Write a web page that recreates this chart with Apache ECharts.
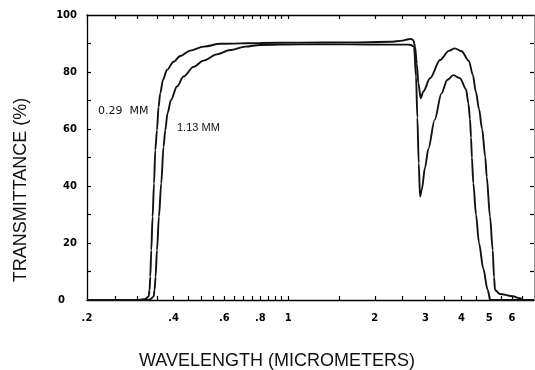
<!DOCTYPE html>
<html><head><meta charset="utf-8">
<script src="https://cdn.jsdelivr.net/npm/echarts@6/dist/echarts.min.js"></script>
<style>html,body{margin:0;padding:0;background:#fff}#c{width:535px;height:370px}</style>
</head><body><div id="c"></div>
<script>
// ---- data ----
const wl029 = [0.2, 0.30, 0.3187, 0.3273, 0.3300, 0.3318, 0.3345, 0.3380, 0.3419, 0.3454, 0.3501, 0.3546, 0.3594, 0.3672, 0.3791, 0.3997, 0.4217, 0.4567, 0.5079, 0.5806, 0.80, 1.1, 1.64, 2.26, 2.50, 2.62, 2.68, 2.724, 2.761, 2.799, 2.835, 2.889, 2.95, 3.112, 3.372, 3.617, 3.794, 4.006, 4.245, 4.383, 4.492, 4.605, 4.721, 4.840, 4.898, 5.029, 5.139, 5.193, 5.235, 5.45, 6.04, 6.39, 6.56, 7.15];
const tr029 = [0, 0, 0.4, 1.2, 3.5, 8.2, 17.5, 29.2, 40.9, 52.6, 59.6, 67.8, 72.5, 77.2, 80.7, 83.6, 85.6, 87.5, 88.9, 89.9, 90.2, 90.3, 90.4, 90.6, 91.0, 91.5, 91.6, 91.1, 88.9, 83, 76, 70.8, 73.2, 77.8, 84.2, 87.4, 88.3, 87.3, 83.9, 79, 73, 67, 60, 50.3, 43.3, 29.2, 17.5, 8, 3.5, 2.1, 1.3, 0.6, 0, 0];
const wl113 = [0.2, 0.31, 0.326, 0.332, 0.3407, 0.3434, 0.3462, 0.3501, 0.3556, 0.3622, 0.3690, 0.3741, 0.3810, 0.3916, 0.4107, 0.4330, 0.4690, 0.5079, 0.5654, 0.6290, 0.71, 0.80, 1.1, 1.6, 2.26, 2.62, 2.667, 2.738, 2.782, 2.812, 2.843, 2.873, 2.912, 2.99, 3.07, 3.23, 3.41, 3.57, 3.75, 3.956, 4.15, 4.23, 4.284, 4.32, 4.35, 4.40, 4.495, 4.605, 4.765, 4.935, 5.04, 7.15];
const tr113 = [0, 0, 0, 0.3, 1.2, 3.5, 8.2, 17.5, 29.2, 40.9, 53.8, 59.6, 65.5, 70.2, 74.9, 78.4, 81.8, 84.0, 86.2, 87.7, 88.9, 89.5, 89.7, 89.7, 89.6, 89.6, 89.5, 88.9, 78.4, 64, 48, 36.3, 38.6, 46.5, 53, 63.2, 72.5, 77.2, 78.9, 77.8, 74, 69, 63.5, 57, 50, 41, 30, 20, 11, 3.5, 0, 0];

const xLabelValues = [0.2, 0.4, 0.6, 0.8, 1, 2, 3, 4, 5, 6];
const xTickValues = [0.25, 0.3, 0.35, 0.4, 0.45, 0.5, 0.55, 0.6, 0.65, 0.7, 0.75, 0.8, 0.85, 0.9, 0.95, 1, 1.5, 2, 2.5, 3, 3.5, 4, 4.5, 5, 5.5, 6, 6.5];
const yLabelValues = [0, 20, 40, 60, 80, 100];
const yTickValues = [10, 20, 30, 40, 50, 60, 70, 80, 90];
const seriesNames = ['0.29  MM', '1.13 MM'];
const xTitle = 'WAVELENGTH (MICROMETERS)';
const yTitle = 'TRANSMITTANCE (%)';

const X_MIN = 0.2, X_MAX = 7.15;
const L = Math.log10;

function fmtX(v) {
  const r = Math.round(Math.pow(10, v) * 100) / 100;
  return r < 1 ? '.' + Math.round(r * 10) : String(Math.round(r));
}
const zip = (a, b) => a.map((x, i) => [x, b[i]]);

const tickStyle = { color: '#000', width: 1.2 };
const lineStyleAxis = { color: '#000', width: 1.3 };

const option = {
  animation: false,
  backgroundColor: '#fff',
  grid: { left: 87, right: 1, top: 15, bottom: 70 },
  xAxis: [
    { type: 'log', logBase: 10, min: X_MIN, max: X_MAX, show: false },
    {
      type: 'value', position: 'bottom', min: L(X_MIN), max: L(X_MAX),
      axisLine: { show: true, onZero: false, lineStyle: lineStyleAxis },
      axisTick: { show: true, inside: true, length: 4, customValues: xTickValues.map(L), lineStyle: tickStyle },
      axisLabel: { show: true, customValues: xLabelValues.map(L), formatter: fmtX, margin: 13,
        fontFamily: 'DejaVu Sans', fontWeight: 'bold', fontSize: 10, color: '#000' },
      splitLine: { show: false }
    },
    {
      type: 'value', position: 'top', min: L(X_MIN), max: L(X_MAX),
      axisLine: { show: true, onZero: false, lineStyle: lineStyleAxis },
      axisTick: { show: true, inside: true, length: 4, customValues: xTickValues.map(L), lineStyle: tickStyle },
      axisLabel: { show: false },
      splitLine: { show: false }
    }
  ],
  yAxis: [
    {
      type: 'value', position: 'left', min: 0, max: 100,
      axisLine: { show: true, onZero: false, lineStyle: lineStyleAxis },
      axisTick: { show: true, inside: true, length: 4, customValues: yTickValues, lineStyle: tickStyle },
      axisLabel: { show: true, customValues: yLabelValues, margin: 10,
        formatter: v => v === 0 ? '{z|0}' : String(v),
        rich: { z: { padding: [0, 12, 0, 0], fontFamily: 'DejaVu Sans', fontWeight: 'bold', fontSize: 10, color: '#000' } },
        fontFamily: 'DejaVu Sans', fontWeight: 'bold', fontSize: 10, color: '#000' },
      splitLine: { show: false }
    },
    {
      type: 'value', position: 'right', min: 0, max: 100,
      axisLine: { show: true, onZero: false, lineStyle: { color: '#999', width: 1 } },
      axisTick: { show: true, inside: true, length: 4, customValues: yTickValues, lineStyle: tickStyle },
      axisLabel: { show: false },
      splitLine: { show: false }
    }
  ],
  series: [
    { name: seriesNames[0], type: 'line', xAxisIndex: 0, yAxisIndex: 0, data: zip(wl029, tr029),
      showSymbol: false, smooth: 0.3, smoothMonotone: 'x', lineStyle: { color: '#111', width: 1.9 } },
    { name: seriesNames[1], type: 'line', xAxisIndex: 0, yAxisIndex: 0, data: zip(wl113, tr113),
      showSymbol: false, smooth: 0.3, smoothMonotone: 'x', lineStyle: { color: '#111', width: 1.9 } }
  ],
  graphic: [
    { type: 'text', x: 21, y: 190, rotation: Math.PI / 2,
      style: { text: yTitle, font: '18px "Liberation Sans"', fill: '#111', align: 'center', verticalAlign: 'middle', textAlign: 'center', textVerticalAlign: 'middle' } },
    { type: 'text', x: 277, y: 361,
      style: { text: xTitle, font: '18px "Liberation Sans"', fill: '#111', align: 'center', verticalAlign: 'middle', textAlign: 'center', textVerticalAlign: 'middle' } },
    { type: 'text', x: 98, y: 111,
      style: { text: seriesNames[0], font: '11px "DejaVu Sans"', fill: '#111', align: 'left', verticalAlign: 'middle', textAlign: 'left', textVerticalAlign: 'middle' } },
    { type: 'text', x: 177, y: 127.5,
      style: { text: seriesNames[1], font: '11px "Liberation Sans"', fill: '#111', align: 'left', verticalAlign: 'middle', textAlign: 'left', textVerticalAlign: 'middle' } }
  ]
};

const chart = echarts.init(document.getElementById('c'));
chart.setOption(option);
</script>
</body></html>
